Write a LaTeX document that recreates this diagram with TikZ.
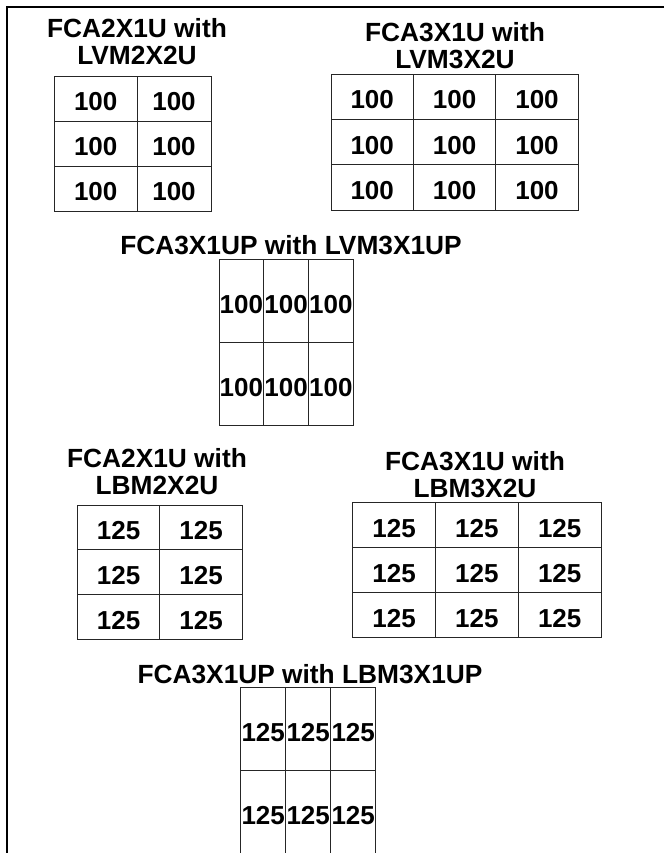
\documentclass[tikz,border=0pt]{standalone}
\usepackage{fontspec}
\setmainfont{Liberation Sans}
\tikzset{
  title/.style={font=\bfseries\fontsize{26.3}{27}\selectfont, align=center},
  cell/.style={draw=black!85, line width=0.9pt, inner sep=0pt, outer sep=0pt,
    font=\bfseries\fontsize{26}{27}\selectfont, text height=24.5pt, text depth=0pt},
}
\begin{document}
\begin{tikzpicture}[x=1pt,y=-1pt]
\useasboundingbox (0,0) rectangle (664,853);
\draw[line width=2pt] (664,7.5) -- (7,7.5) -- (7,853);
% LVM rows
\node[title] (lvm2x2) at (137,41.5) {FCA2X1U with\\LVM2X2U};
\foreach \r/\y in {1/98.5,2/143.5,3/188.5}
  \foreach \c/\x/\w in {1/95.7/82.7,2/174/74}
    \node[cell, minimum width=\w pt, minimum height=45pt] (lvm2x2-\r\c) at (\x,\y) {100};
\node[title] (lvm3x2) at (455,46) {FCA3X1U with\\LVM3X2U};
\foreach \r/\y in {1/96.7,2/142,3/187.3}
  \foreach \c/\x in {1/372.2,2/454.6,3/537}
    \node[cell, minimum width=82.4pt, minimum height=45.3pt] (lvm3x2-\r\c) at (\x,\y) {100};
\node[title, anchor=base] (lvm3x1) at (291,254) {FCA3X1UP with LVM3X1UP};
\foreach \r/\y in {1/300.8,2/383.8}
  \foreach \c/\x in {1/241.4,2/286.1,3/330.9}
    \node[cell, minimum width=44.8pt, minimum height=83pt] (lvm3x1-\r\c) at (\x,\y) {100};
% LBM rows
\node[title] (lbm2x2) at (157,472) {FCA2X1U with\\LBM2X2U};
\foreach \r/\y in {1/527.4,2/572.2,3/617}
  \foreach \c/\x in {1/118.6,2/201.1}
    \node[cell, minimum width=82.5pt, minimum height=44.8pt] (lbm2x2-\r\c) at (\x,\y) {125};
\node[title] (lbm3x2) at (475,474.5) {FCA3X1U with\\LBM3X2U};
\foreach \r/\y in {1/525.2,2/570.2,3/615.2}
  \foreach \c/\x in {1/394.1,2/476.9,3/559.7}
    \node[cell, minimum width=82.8pt, minimum height=45pt] (lbm3x2-\r\c) at (\x,\y) {125};
\node[title, anchor=base] (lbm3x1) at (310,683) {FCA3X1UP with LBM3X1UP};
\foreach \r/\y in {1/729.2,2/812.2}
  \foreach \c/\x in {1/263.2,2/308.2,3/353.2}
    \node[cell, minimum width=45pt, minimum height=83pt] (lbm3x1-\r\c) at (\x,\y) {125};
\end{tikzpicture}
\end{document}
